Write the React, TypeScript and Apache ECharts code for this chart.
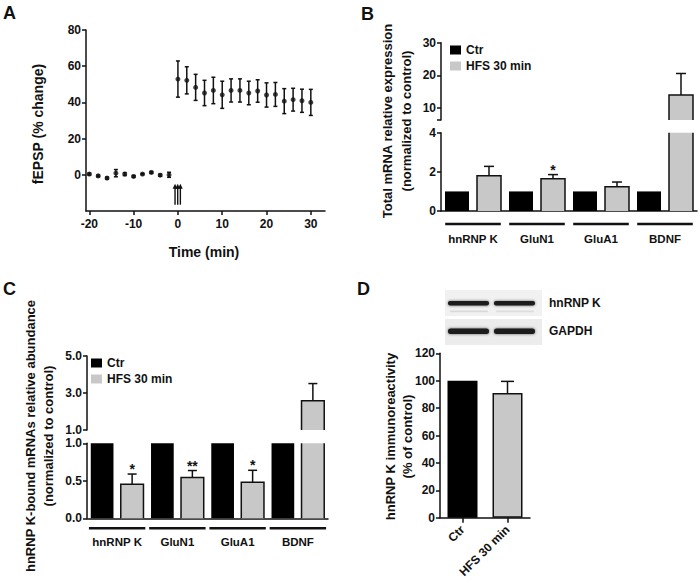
import React, { useEffect, useRef } from "react";
import * as echarts from "echarts";

const FONT = '"Liberation Sans", Arial, Helvetica, sans-serif';
const INK = "#111111";
const GRAY = "#c8c8c8";

// ---------- Panel A: fEPSP time course ----------
const preTimes = [-20, -18, -16, -14, -12, -10, -8, -6, -4, -2];
const preValues = [0.4, -0.6, -1.8, 0.9, 0.4, -0.9, 0.4, 1.3, -0.2, 0];
const preErrors = [0.6, 0.5, 0.6, 2.0, 0.8, 0.5, 0.4, 0.5, 0.6, 1.4];
const postTimes = [0, 2, 4, 6, 8, 10, 12, 14, 16, 18, 20, 22, 24, 26, 28, 30];
const postValues = [52.9, 52.2, 48.3, 45.2, 46.6, 44.2, 46.6, 46.6, 45.2, 46.3, 44.1, 44.4, 40.7, 41.5, 40.9, 40.0];
const postErrors = [10, 7.5, 7.2, 7, 7.3, 7.5, 6.4, 6.4, 6.5, 6.2, 6.7, 6.6, 6.9, 6.3, 6.4, 7.2];
const hfsArrowTimes = [-0.65, -0.05, 0.55];
const timeTicks = [-20, -10, 0, 10, 20, 30];
const fepspTicks = [0, 20, 40, 60, 80];

// ---------- Panel B: total mRNA ----------
const genes = ["hnRNP K", "GluN1", "GluA1", "BDNF"];
const totalCtr = [1, 1, 1, 1];
const totalHfs = [1.8, 1.65, 1.24, 14.0];
const totalHfsErr = [0.48, 0.21, 0.24, 6.6];
const totalSig = ["", "*", "", ""];
const totalTicksLow = [0, 2, 4];
const totalTicksHigh = [10, 20, 30];

// ---------- Panel C: hnRNP K-bound mRNAs ----------
const boundCtr = [1, 1, 1, 1];
const boundHfs = [0.455, 0.544, 0.482, 2.58];
const boundHfsErr = [0.135, 0.093, 0.158, 0.93];
const boundSig = ["*", "**", "*", ""];
const boundTicksLow = [0, 0.5, 1];
const boundTicksHigh = [1, 3, 5];

// ---------- Panel D: immunoreactivity ----------
const groups = ["Ctr", "HFS 30 min"];
const immuno = [100, 91];
const immunoErr = [0, 8.5];
const immunoTicks = [0, 20, 40, 60, 80, 100, 120];

const labelStyle = { color: INK, fontFamily: FONT, fontWeight: "bold" as const, fontSize: 12 };
const axisLine = { show: true, onZero: false, lineStyle: { color: INK, width: 1.5 } };
const tickStyle = { show: true, length: 4, lineStyle: { color: INK, width: 1.5 } };

function barRender(offset: number, width: number, fill: string, stroke: boolean) {
  return (params: any, api: any) => {
    const cat = api.value(0);
    const v = api.value(1);
    const cs = params.coordSys;
    const p = api.coord([cat, v]);
    const p0 = api.coord([cat, 0]);
    const top = Math.max(p[1], cs.y);
    const bottom = Math.min(p0[1], cs.y + cs.height);
    if (bottom - top <= 0.5) return null;
    const x0 = p[0] + offset - width / 2;
    const x1 = x0 + width;
    const children: any[] = [
      { type: "rect", shape: { x: x0, y: top, width, height: bottom - top }, style: { fill } },
    ];
    if (stroke) {
      const ls = { stroke: INK, lineWidth: 1.5, fill: null };
      if (p[1] >= cs.y - 0.01) {
        children.push({ type: "polyline", shape: { points: [[x0, bottom], [x0, top], [x1, top], [x1, bottom]] }, style: ls });
      } else {
        children.push({ type: "line", shape: { x1: x0, y1: bottom, x2: x0, y2: top }, style: ls });
        children.push({ type: "line", shape: { x1: x1, y1: bottom, x2: x1, y2: top }, style: ls });
      }
    }
    return { type: "group", children };
  };
}

function errRender(offset: number, cap: number, both: boolean) {
  return (params: any, api: any) => {
    const x = api.value(0);
    const v = api.value(1);
    const e = api.value(2);
    const pt = api.coord([x, v + e]);
    const pb = api.coord([x, both ? v - e : v]);
    const cx = pt[0] + offset;
    const s = { stroke: INK, lineWidth: 1.5 };
    const children: any[] = [
      { type: "line", shape: { x1: cx, y1: pt[1], x2: cx, y2: pb[1] }, style: s },
      { type: "line", shape: { x1: cx - cap / 2, y1: pt[1], x2: cx + cap / 2, y2: pt[1] }, style: s },
    ];
    if (both) children.push({ type: "line", shape: { x1: cx - cap / 2, y1: pb[1], x2: cx + cap / 2, y2: pb[1] }, style: s });
    return { type: "group", children };
  };
}

function starRender(offset: number, sig: string[]) {
  return (params: any, api: any) => {
    const i = api.value(0);
    const p = api.coord([i, api.value(1)]);
    return {
      type: "text",
      x: p[0] + offset,
      y: p[1] + 2,
      style: { text: sig[i], textAlign: "center", textVerticalAlign: "bottom", fill: INK, font: `bold 14px ${FONT}` },
    };
  };
}

function groupLineRender(halfWidth: number, dy: number) {
  return (params: any, api: any) => {
    const p = api.coord([api.value(0), 0]);
    const cs = params.coordSys;
    const y = cs.y + cs.height + dy;
    return { type: "line", shape: { x1: p[0] - halfWidth, y1: y, x2: p[0] + halfWidth, y2: y }, style: { stroke: INK, lineWidth: 2.6 } };
  };
}

function arrowRender(fromV: number, toV: number) {
  return (params: any, api: any) => {
    const x = api.value(0);
    const pb = api.coord([x, fromV]);
    const pt = api.coord([x, toV]);
    return {
      type: "group",
      children: [
        { type: "line", shape: { x1: pb[0], y1: pb[1], x2: pb[0], y2: pt[1] + 4 }, style: { stroke: INK, lineWidth: 1.4 } },
        { type: "polygon", shape: { points: [[pt[0] - 2.4, pt[1] + 5], [pt[0] + 2.4, pt[1] + 5], [pt[0], pt[1]]] }, style: { fill: INK } },
      ],
    };
  };
}

const errData = (vals: number[], errs: number[], keep: (top: number) => boolean) =>
  vals.map((v, i) => [i, v, errs[i]]).filter((d) => keep(d[1] + d[2]));
const starData = (vals: number[], errs: number[], sig: string[], keep: (top: number) => boolean) =>
  vals.map((v, i) => [i, v + errs[i]]).filter((d, i) => sig[i] !== "" && keep(d[1]));

export default function App() {
  const ref = useRef<HTMLDivElement>(null);
  useEffect(() => {
    document.body.style.margin = "0";
    if (!ref.current) return;
    const chart = echarts.init(ref.current, undefined, { renderer: "svg" });

    const catIdx = genes.map((g, i) => [i, 0]);
    const legendData = [
      { name: "Ctr", itemStyle: { color: "#000", borderWidth: 0 } },
      { name: "HFS 30 min", itemStyle: { color: GRAY, borderWidth: 0 } },
    ];
    const legendBase = {
      orient: "vertical" as const,
      itemWidth: 11,
      itemHeight: 9,
      itemGap: 4,
      padding: 0,
      icon: "rect",
      selectedMode: false,
      textStyle: { ...labelStyle, lineHeight: 12 },
      data: legendData,
    };

    const option: any = {
      animation: false,
      backgroundColor: "#fff",
      textStyle: { fontFamily: FONT },
      legend: [
        { ...legendBase, left: 450, top: 44 },
        { ...legendBase, left: 91, top: 357 },
      ],
      grid: [
        { left: 86, top: 30, width: 239, height: 181 },
        { left: 441, top: 42.7, width: 256, height: 77.3 },
        { left: 441, top: 132.7, width: 256, height: 78.3 },
        { left: 87, top: 356, width: 241, height: 74 },
        { left: 87, top: 443.3, width: 241, height: 75 },
        { left: 440, top: 353.3, width: 90, height: 164.4 },
      ],
      xAxis: [
        {
          type: "value", gridIndex: 0, min: -20.75, max: 33.2,
          axisLine, axisTick: { ...tickStyle, customValues: timeTicks },
          axisLabel: { ...labelStyle, margin: 7, customValues: timeTicks }, splitLine: { show: false },
        },
        { type: "category", gridIndex: 1, data: genes, show: false },
        {
          type: "category", gridIndex: 2, data: genes, axisLine, axisTick: { show: false },
          axisLabel: { ...labelStyle, fontSize: 11.5, margin: 22, interval: 0 },
        },
        { type: "category", gridIndex: 3, data: genes, show: false },
        {
          type: "category", gridIndex: 4, data: genes, axisLine, axisTick: { show: false },
          axisLabel: { ...labelStyle, fontSize: 11.5, margin: 18, interval: 0 },
        },
        {
          type: "category", gridIndex: 5, data: groups, axisLine,
          axisTick: { ...tickStyle, length: 5, alignWithLabel: true },
          axisLabel: { ...labelStyle, rotate: 45, margin: 10, interval: 0 },
        },
      ],
      yAxis: [
        {
          type: "value", gridIndex: 0, min: -20, max: 80, axisLine,
          axisTick: { ...tickStyle, customValues: fepspTicks },
          axisLabel: { ...labelStyle, margin: 5, customValues: fepspTicks }, splitLine: { show: false },
        },
        {
          type: "value", gridIndex: 1, min: 6.4, max: 30, axisLine,
          axisTick: { ...tickStyle, customValues: [6.4, ...totalTicksHigh] },
          axisLabel: { ...labelStyle, margin: 5, customValues: totalTicksHigh }, splitLine: { show: false },
        },
        {
          type: "value", gridIndex: 2, min: 0, max: 4, axisLine,
          axisTick: { ...tickStyle, customValues: totalTicksLow },
          axisLabel: { ...labelStyle, margin: 5, customValues: totalTicksLow }, splitLine: { show: false },
        },
        {
          type: "value", gridIndex: 3, min: 1, max: 5, axisLine,
          axisTick: { ...tickStyle, customValues: boundTicksHigh },
          axisLabel: { ...labelStyle, margin: 5, customValues: boundTicksHigh, formatter: (v: number) => v.toFixed(1) },
          splitLine: { show: false },
        },
        {
          type: "value", gridIndex: 4, min: 0, max: 1, axisLine,
          axisTick: { ...tickStyle, customValues: boundTicksLow },
          axisLabel: { ...labelStyle, margin: 5, customValues: boundTicksLow, formatter: (v: number) => v.toFixed(1) },
          splitLine: { show: false },
        },
        {
          type: "value", gridIndex: 5, min: 0, max: 120, axisLine,
          axisTick: { ...tickStyle, customValues: immunoTicks },
          axisLabel: { ...labelStyle, margin: 5, customValues: immunoTicks }, splitLine: { show: false },
        },
      ],
      series: [
        // Panel A
        {
          type: "custom", xAxisIndex: 0, yAxisIndex: 0, renderItem: errRender(0, 4, true),
          data: [...preTimes.map((t, i) => [t, preValues[i], preErrors[i]]), ...postTimes.map((t, i) => [t, postValues[i], postErrors[i]])],
          encode: { x: 0, y: 1 }, z: 2,
        },
        {
          type: "scatter", xAxisIndex: 0, yAxisIndex: 0, symbol: "circle", symbolSize: 5,
          itemStyle: { color: INK },
          data: [...preTimes.map((t, i) => [t, preValues[i]]), ...postTimes.map((t, i) => [t, postValues[i]])], z: 3,
        },
        {
          type: "custom", xAxisIndex: 0, yAxisIndex: 0, renderItem: arrowRender(-16.5, -5),
          data: hfsArrowTimes.map((t) => [t, 0]), encode: { x: 0, y: 1 },
        },
        // Panel B
        { type: "custom", name: "Ctr", xAxisIndex: 2, yAxisIndex: 2, itemStyle: { color: "#000" }, renderItem: barRender(-16, 24, "#000", false), data: totalCtr.map((v, i) => [i, v]), encode: { x: 0, y: 1 } },
        { type: "custom", name: "HFS 30 min", xAxisIndex: 2, yAxisIndex: 2, itemStyle: { color: GRAY }, renderItem: barRender(16, 24, GRAY, true), data: totalHfs.map((v, i) => [i, v]), encode: { x: 0, y: 1 } },
        { type: "custom", name: "HFS 30 min", xAxisIndex: 1, yAxisIndex: 1, itemStyle: { color: GRAY }, renderItem: barRender(16, 24, GRAY, true), data: totalHfs.map((v, i) => [i, v]), encode: { x: 0, y: 1 } },
        { type: "custom", xAxisIndex: 2, yAxisIndex: 2, renderItem: errRender(16, 10, false), data: errData(totalHfs, totalHfsErr, (t) => t <= 4), encode: { x: 0, y: 1 } },
        { type: "custom", xAxisIndex: 1, yAxisIndex: 1, renderItem: errRender(16, 10, false), data: errData(totalHfs, totalHfsErr, (t) => t >= 6.4), encode: { x: 0, y: 1 } },
        { type: "custom", xAxisIndex: 2, yAxisIndex: 2, renderItem: starRender(16, totalSig), data: starData(totalHfs, totalHfsErr, totalSig, (t) => t <= 4), encode: { x: 0, y: 1 } },
        { type: "custom", xAxisIndex: 2, yAxisIndex: 2, renderItem: groupLineRender(27.8, 13), data: catIdx, encode: { x: 0, y: 1 } },
        // Panel C
        { type: "custom", name: "Ctr", xAxisIndex: 4, yAxisIndex: 4, itemStyle: { color: "#000" }, renderItem: barRender(-15, 22.7, "#000", false), data: boundCtr.map((v, i) => [i, v]), encode: { x: 0, y: 1 } },
        { type: "custom", name: "HFS 30 min", xAxisIndex: 4, yAxisIndex: 4, itemStyle: { color: GRAY }, renderItem: barRender(15, 22.7, GRAY, true), data: boundHfs.map((v, i) => [i, v]), encode: { x: 0, y: 1 } },
        { type: "custom", name: "HFS 30 min", xAxisIndex: 3, yAxisIndex: 3, itemStyle: { color: GRAY }, renderItem: barRender(15, 22.7, GRAY, true), data: boundHfs.map((v, i) => [i, v]), encode: { x: 0, y: 1 } },
        { type: "custom", xAxisIndex: 4, yAxisIndex: 4, renderItem: errRender(15, 9, false), data: errData(boundHfs, boundHfsErr, (t) => t <= 1), encode: { x: 0, y: 1 } },
        { type: "custom", xAxisIndex: 3, yAxisIndex: 3, renderItem: errRender(15, 9, false), data: errData(boundHfs, boundHfsErr, (t) => t > 1), encode: { x: 0, y: 1 } },
        { type: "custom", xAxisIndex: 4, yAxisIndex: 4, renderItem: starRender(15, boundSig), data: starData(boundHfs, boundHfsErr, boundSig, (t) => t <= 1), encode: { x: 0, y: 1 } },
        { type: "custom", xAxisIndex: 4, yAxisIndex: 4, renderItem: groupLineRender(28.2, 10), data: catIdx, encode: { x: 0, y: 1 } },
        // Panel D
        {
          type: "bar", xAxisIndex: 5, yAxisIndex: 5, barWidth: 30,
          data: immuno.map((v, i) => ({
            value: v,
            itemStyle: i === 0 ? { color: "#000" } : { color: GRAY, borderColor: INK, borderWidth: 1.5 },
          })),
        },
        { type: "custom", xAxisIndex: 5, yAxisIndex: 5, renderItem: errRender(0, 13, false), data: errData(immuno, immunoErr, () => true).filter((d) => d[2] > 0), encode: { x: 0, y: 1 } },
      ],
      graphic: [
        // panel letters
        { type: "text", x: 3, y: 4, style: { text: "A", font: `bold 18px ${FONT}`, fill: INK } },
        { type: "text", x: 361, y: 5, style: { text: "B", font: `bold 18px ${FONT}`, fill: INK } },
        { type: "text", x: 3, y: 280, style: { text: "C", font: `bold 18px ${FONT}`, fill: INK } },
        { type: "text", x: 357, y: 280, style: { text: "D", font: `bold 18px ${FONT}`, fill: INK } },
        // axis titles
        { type: "text", x: 204, y: 252, style: { text: "Time (min)", font: `bold 14px ${FONT}`, fill: INK, textAlign: "center", textVerticalAlign: "middle" } },
        { type: "text", x: 38, y: 124, rotation: Math.PI / 2, style: { text: "fEPSP (% change)", font: `bold 14px ${FONT}`, fill: INK, textAlign: "center", textVerticalAlign: "middle" } },
        { type: "text", x: 397, y: 121, rotation: Math.PI / 2, style: { text: "Total mRNA relative expression\n(normalized to control)", font: `bold 13px ${FONT}`, lineHeight: 19, fill: INK, textAlign: "center", textVerticalAlign: "middle" } },
        { type: "text", x: 39, y: 436, rotation: Math.PI / 2, style: { text: "hnRNP K-bound mRNAs relative abundance\n(normalized to control)", font: `bold 13px ${FONT}`, lineHeight: 18, fill: INK, textAlign: "center", textVerticalAlign: "middle" } },
        { type: "text", x: 398.5, y: 436.5, rotation: Math.PI / 2, style: { text: "hnRNP K immunoreactivity\n(% of control)", font: `bold 13px ${FONT}`, lineHeight: 17, fill: INK, textAlign: "center", textVerticalAlign: "middle" } },
        // western blot picture
        { type: "rect", shape: { x: 445, y: 290, width: 97, height: 26 }, style: { fill: "#f1f1f1" } },
        { type: "rect", shape: { x: 445, y: 319, width: 97, height: 26 }, style: { fill: "#ececec" } },
        { type: "rect", shape: { x: 448, y: 301, width: 41, height: 4.5, r: 2 }, style: { fill: "#1c1c1c", shadowBlur: 3, shadowColor: "rgba(0,0,0,0.6)" } },
        { type: "rect", shape: { x: 494, y: 301, width: 41, height: 4.5, r: 2 }, style: { fill: "#1c1c1c", shadowBlur: 3, shadowColor: "rgba(0,0,0,0.6)" } },
        { type: "rect", shape: { x: 450, y: 310.5, width: 38, height: 1.8, r: 1 }, style: { fill: "#d9d9d9" } },
        { type: "rect", shape: { x: 496, y: 310.5, width: 38, height: 1.8, r: 1 }, style: { fill: "#dddddd" } },
        { type: "rect", shape: { x: 448, y: 328.5, width: 41, height: 5.5, r: 2.5 }, style: { fill: "#1c1c1c", shadowBlur: 3, shadowColor: "rgba(0,0,0,0.6)" } },
        { type: "rect", shape: { x: 494, y: 328.5, width: 41, height: 5.5, r: 2.5 }, style: { fill: "#1c1c1c", shadowBlur: 3, shadowColor: "rgba(0,0,0,0.6)" } },
        { type: "text", x: 549, y: 303, style: { text: "hnRNP K", font: `bold 12px ${FONT}`, fill: INK, textVerticalAlign: "middle" } },
        { type: "text", x: 549, y: 331, style: { text: "GAPDH", font: `bold 12px ${FONT}`, fill: INK, textVerticalAlign: "middle" } },
      ],
    };
    chart.setOption(option);
    return () => chart.dispose();
  }, []);
  return <div ref={ref} style={{ width: 700, height: 583 }} />;
}
